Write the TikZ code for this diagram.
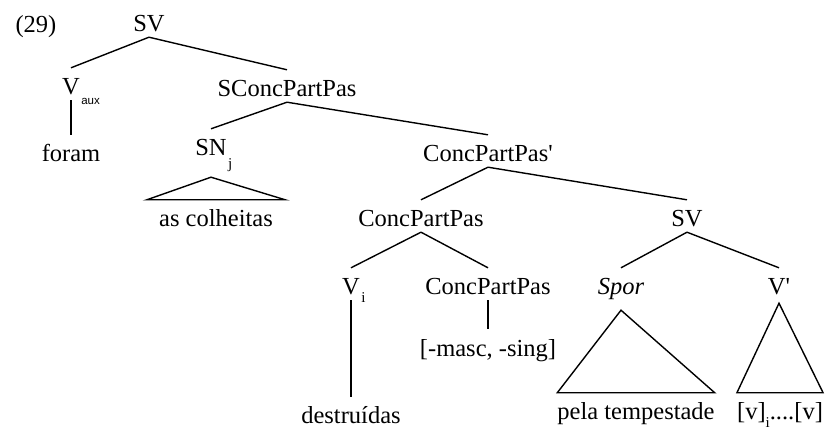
\documentclass[tikz,border=0pt]{standalone}
\usepackage{fontspec}
\setmainfont{Liberation Serif}
\setsansfont{Liberation Sans}
\usetikzlibrary{calc}
\tikzset{
  cat/.style ={anchor=base, inner sep=0pt, text height=27pt, text depth=5pt},
  leaf/.style={anchor=base, inner sep=0pt, text height=27pt, text depth=5pt},
  br/.style  ={line width=1.4pt},
  tri/.style ={line width=1.4pt, line join=miter},
}
\newcommand{\sub}[2][-10pt]{\rlap{\hspace{1.5pt}\raisebox{#1}{\fontsize{15}{15}\selectfont #2}}}

\begin{document}
\begin{tikzpicture}[x=1pt, y=-1pt, font=\fontsize{24.5}{28}\selectfont]
  \useasboundingbox (0,0) rectangle (825,438);

  \node[cat] (num) at (36,33) {(29)};
  \node[cat] (sv) at (149,32) {SV};
  \node[cat] (vaux) at (71,95) {V\sub[-10pt]{\sffamily\fontsize{11.5}{12}\selectfont aux}};
  \node[leaf] (foram) at (71,162) {foram};
  \node[cat] (scpp) at (287,97) {SConcPartPas};
  \node[cat] (sn) at (211,156) {SN\sub[-13pt]{j}};
  \node[leaf, minimum width=138pt] (colh) at (216,227) {as colheitas};
  \node[cat] (cppbar) at (488,162) {ConcPartPas\textquotesingle};
  \node[cat] (cpp) at (421,227) {ConcPartPas};
  \node[cat] (svb) at (687,227) {SV};
  \node[cat] (vi) at (351,295) {V\sub[-8pt]{i}};
  \node[cat] (cppb) at (488,295) {ConcPartPas};
  \node[leaf] (destr) at (351,424) {destruídas};
  \node[leaf] (masc) at (488,356) {[-masc, -sing]};
  \node[cat] (spor) at (621,295) {\textit{Spor}};
  \node[cat] (vbar) at (779,295) {V\textquotesingle};
  \node[leaf, minimum width=157pt] (temp) at (636,420) {pela tempestade};
  \node[leaf, minimum width=78pt] (vv) at (780,420) {[v]\raisebox{-8pt}{\fontsize{15}{15}\selectfont i}....[v]};

  % branches
  \draw[br] (sv.south) -- (vaux.north);
  \draw[br] (sv.south) -- (scpp.north);
  \draw[br] (vaux.south) -- (foram.north);
  \draw[br] (scpp.south) -- (sn.north);
  \draw[br] (scpp.south) -- (cppbar.north);
  \draw[br] (cppbar.south) -- (cpp.north);
  \draw[br] (cppbar.south) -- (svb.north);
  \draw[br] (cpp.south) -- (vi.north);
  \draw[br] (cpp.south) -- (cppb.north);
  \draw[br] (vi.south) -- (destr.north);
  \draw[br] (cppb.south) -- (masc.north);
  \draw[br] (svb.south) -- (spor.north);
  \draw[br] (svb.south) -- (vbar.north);

  % triangles
  \draw[tri] ([yshift=-16pt]sn.south) -- (colh.north west) -- (colh.north east) -- cycle;
  \draw[tri] ([yshift=-10pt]spor.south) -- (temp.north west) -- (temp.north east) -- cycle;
  \draw[tri] ([yshift=-3pt]vbar.south) -- (vv.north west) -- (vv.north east) -- cycle;
\end{tikzpicture}
\end{document}
